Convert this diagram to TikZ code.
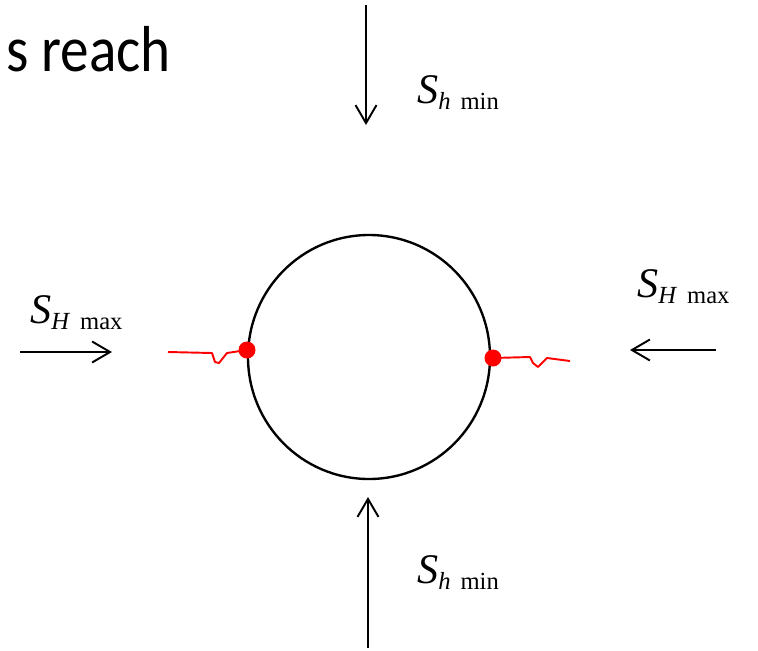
\documentclass[tikz,border=0pt]{standalone}
\usepackage{fontspec}
\setmainfont{Liberation Serif}
\newfontfamily\headfont{Carlito}
\usetikzlibrary{arrows.meta}
\usetikzlibrary{positioning}

\newcommand{\stresslabel}[2]{\fontsize{24}{24}\selectfont\textit{S}\raisebox{-0.15em}{\fontsize{14}{14}\selectfont\textit{#1}\hspace{0.4em}#2}}

\tikzset{
  load/.style={black,line width=1.1pt,-{Straight Barb[length=0.36cm,width=0.42cm,line width=1.1pt]}},
  lbl/.style={anchor=base west,inner sep=0pt,text=black},
  crack/.style={red,line width=1.1pt,line join=round},
  tipdot/.style={circle,fill=red,draw=none,minimum size=0.34cm,inner sep=0pt}
}

\begin{document}
\begin{tikzpicture}[x=0.02cm,y=-0.02cm]
\useasboundingbox (0,0) rectangle (758,650);

\node[anchor=base east,inner sep=0pt,font=\headfont\fontsize{37}{37}\selectfont] (head) at (171,71) {\scalebox{0.88}[1]{s reach}};

% borehole
\draw[black,line width=1.35pt] (369,357) ellipse (121 and 122);

% loads
\coordinate (topS) at (366,5);    \coordinate (topE) at (366,125);
\coordinate (botS) at (368,648);  \coordinate (botE) at (368,497);
\coordinate (lefS) at (20,352);   \coordinate (lefE) at (112,352);
\coordinate (rigS) at (716,350);  \coordinate (rigE) at (630,350);
\draw[load] (topS) -- (topE);
\draw[load] (botS) -- (botE);
\draw[load] (lefS) -- (lefE);
\draw[load] (rigS) -- (rigE);

\node[lbl] (hminT) at (417,103) {\stresslabel{h}{min}};
\node[lbl] (hminB) at (417,583) {\stresslabel{h}{min}};
\node[lbl] (HmaxL) at (30,323) {\stresslabel{H}{max}};
\node[lbl] (HmaxR) at (637,297) {\stresslabel{H}{max}};

% fractures
\node[tipdot] (fracL) at (247,350) {};
\node[tipdot] (fracR) at (493,358) {};
\draw[crack] (168,352) -- (212,353) -- (215,362) -- (219,363) -- (227,353) -- (fracL.center);
\draw[crack] (fracR.center) -- (530,357) -- (533,363) -- (538,367) -- (547,358) -- (570,361);

\end{tikzpicture}
\end{document}
